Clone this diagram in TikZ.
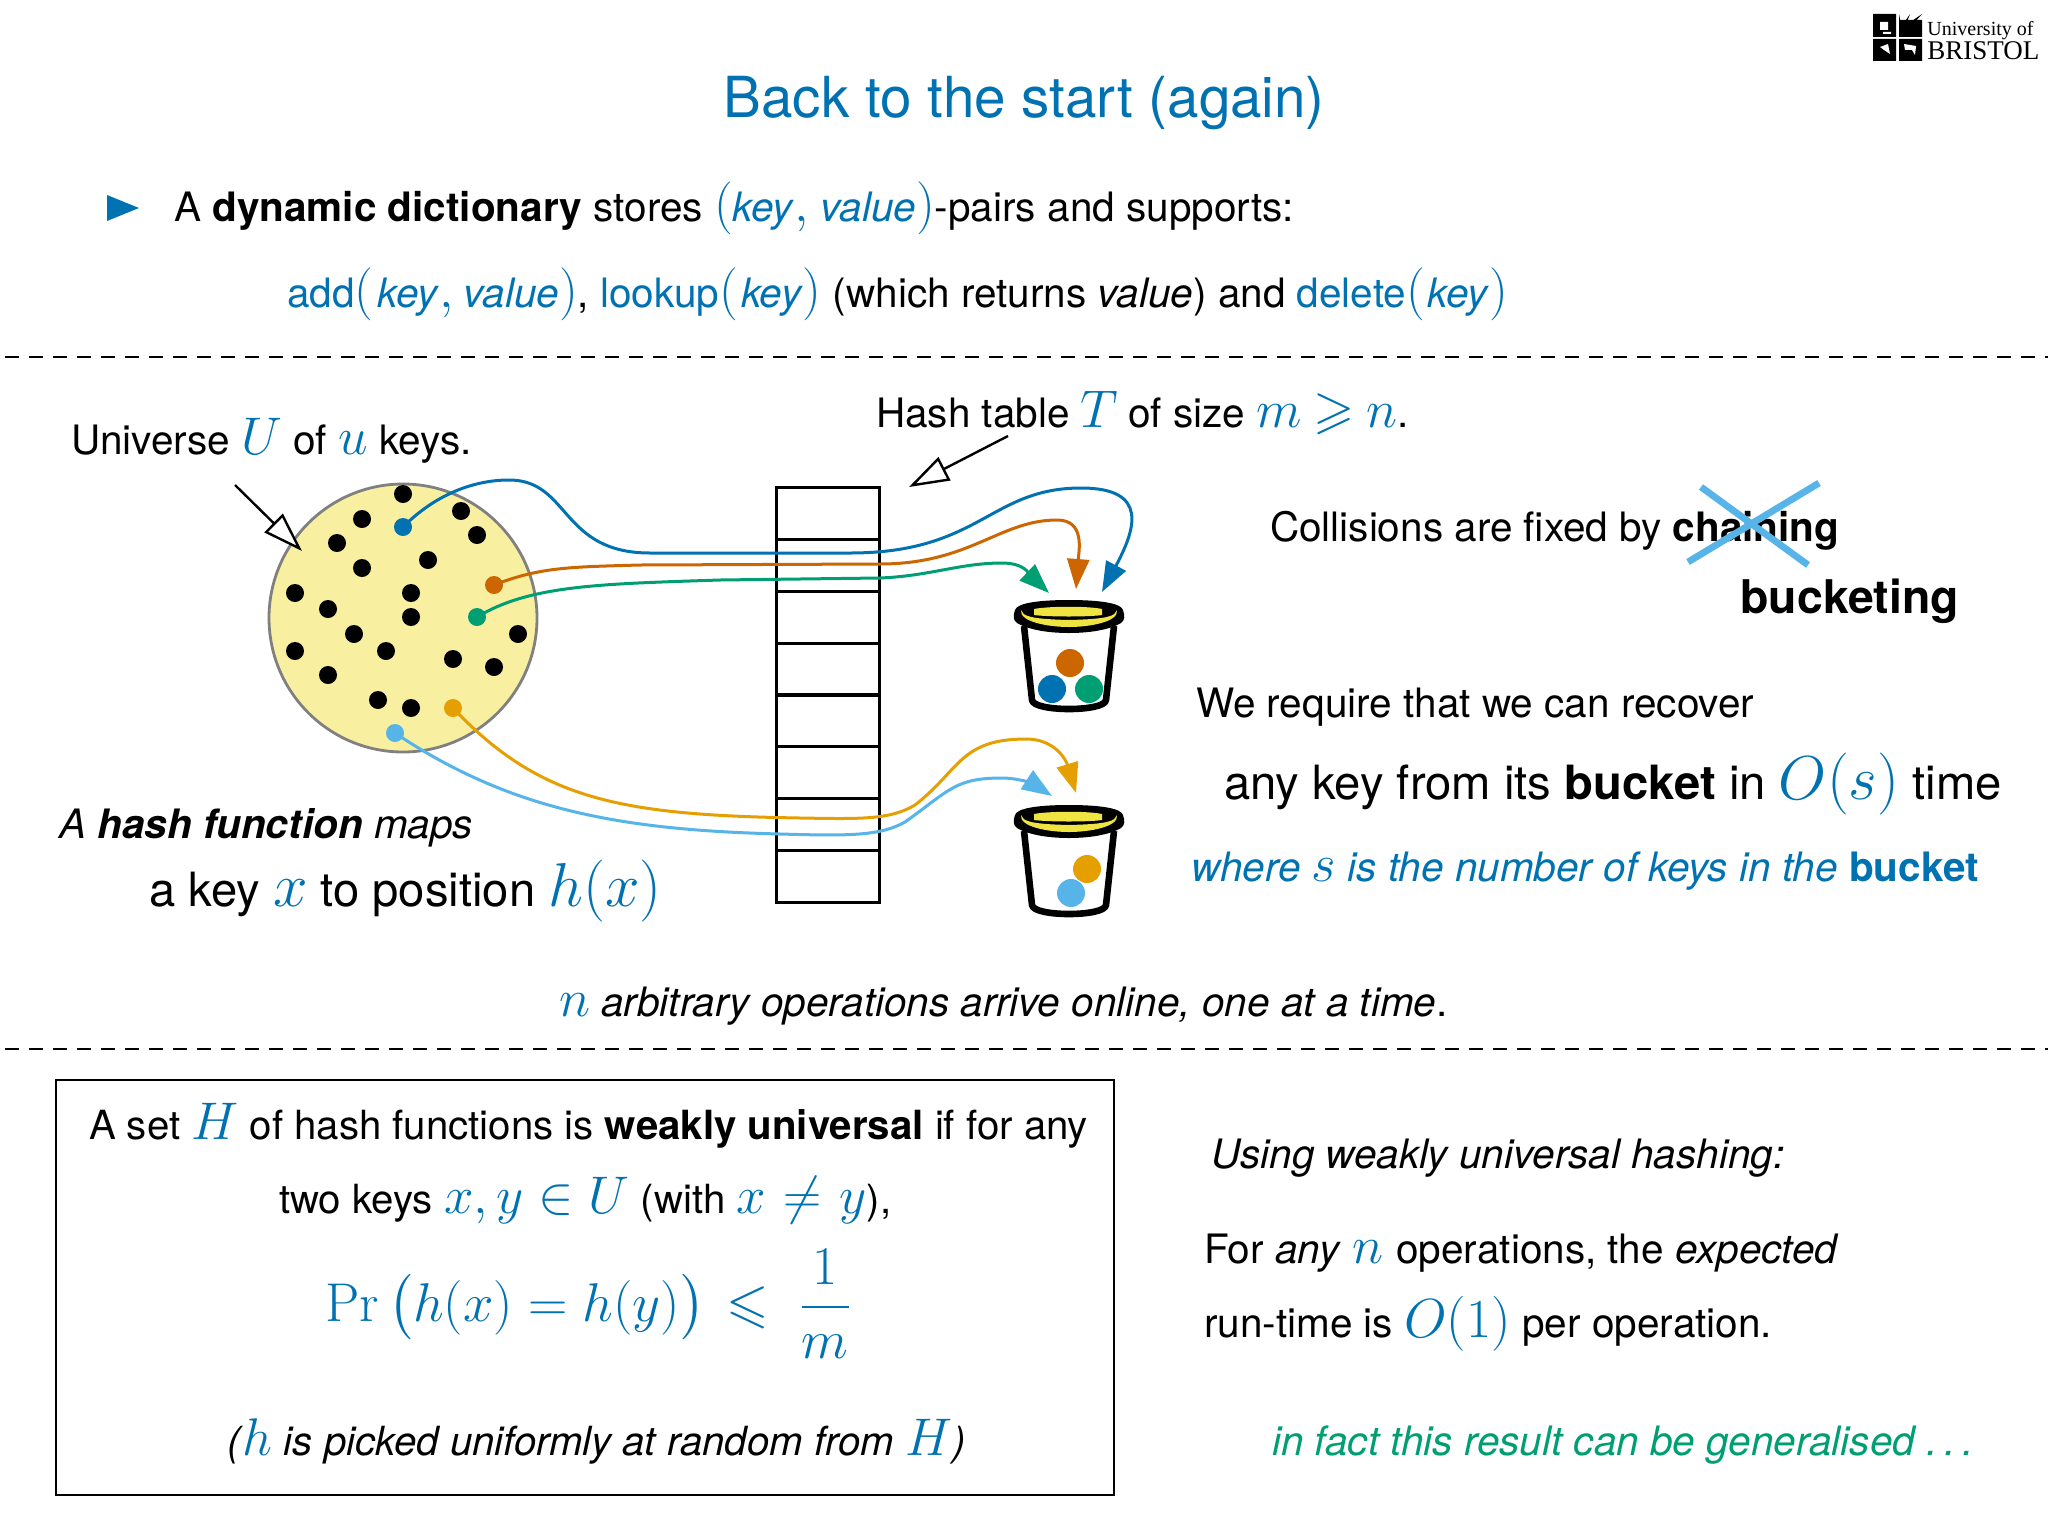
\RequirePackage{fix-cm}
\documentclass[tikz,border=0pt]{standalone}
\usepackage{amsmath,amssymb}
\usepackage[no-math]{fontspec}
\setmainfont{TeX Gyre Heros}
\newfontfamily\serifl{Liberation Serif}
\usetikzlibrary{arrows.meta}
\definecolor{mb}{HTML}{0072B2}
\definecolor{mv}{HTML}{CC6600}
\definecolor{mg}{HTML}{009E73}
\definecolor{mo}{HTML}{E69F00}
\definecolor{ms}{HTML}{56B4E9}
\definecolor{my}{HTML}{F0E442}
\definecolor{uni}{HTML}{F8F0A0}
\newcommand{\fs}[1]{\fontsize{#1}{#1}\selectfont}
\newcommand{\mm}[1]{{\fs{26.5}\color{mb}$#1$}}
\newcommand{\mn}[1]{{\fs{27.5}\color{mb}$#1$}}
\newcommand{\mh}[1]{{\fs{31}\color{mb}$#1$}}
\newcommand{\bi}[1]{{\color{mb}\textit{#1}}}
\tikzset{
 txt/.style={anchor=base west,inner sep=0pt,outer sep=0pt,font=\fs{20.25}},
 boxt/.style={anchor=base west,inner sep=0pt,outer sep=0pt,font=\fs{20.1}},
 big/.style={anchor=base west,inner sep=0pt,outer sep=0pt,font=\fs{23.6}},
 dot/.style={circle,fill=black,inner sep=0pt,minimum size=9pt},
 cell/.style={draw=black,line width=1.5pt,minimum width=51.5pt,minimum height=26pt,inner sep=0pt,outer sep=0pt},
 conn/.style={line width=1.5pt,-{Triangle[length=15pt,width=11pt]}},
 hollow/.style={line width=1.2pt,black,-{Triangle[open,fill=white,length=20pt,width=13pt,line width=1.2pt]}},
 ball/.style={circle,inner sep=0pt,minimum size=14pt},
 pics/bucket/.style={code={
  \draw[line width=3.3pt,line join=round,fill=white] (-45,26) -- (-37,100) .. controls (-36,112) and (36,112) .. (37,100) -- (45,26);
  \fill[black] (-54,10) .. controls (-52,3) and (-30,0) .. (0,0) .. controls (30,0) and (52,3) .. (54,10) .. controls (56,16) and (56,20) .. (52,23) .. controls (40,30) and (20,33) .. (0,33) .. controls (-20,33) and (-40,30) .. (-52,23) .. controls (-56,20) and (-56,16) .. (-54,10) -- cycle;
  \fill[my] (-48,10) .. controls (-46,16) and (-40,19) .. (0,20) .. controls (40,19) and (46,16) .. (48,10) .. controls (50,22) and (20,27) .. (0,27) .. controls (-20,27) and (-50,22) .. (-48,10) -- cycle;
  \fill[my] (-35,9) .. controls (-20,6) and (20,6) .. (33,9) -- (33,15) .. controls (20,17) and (-20,17) .. (-35,15) -- cycle;
 }}
}
\begin{document}
\begin{tikzpicture}[x=0.5pt,y=-0.5pt]
\useasboundingbox (0,0) rectangle (2048,1536);
\fill[white] (0,0) rectangle (2048,1536);
% logo
\fill[black] (1873,14) rectangle (1896,37) (1899,20) rectangle (1922,37) (1873,39) rectangle (1896,61) (1899,39) rectangle (1922,61);
\fill[white] (1880,22) rectangle (1888,30) (1883,32) rectangle (1891,34) (1880,47) -- (1888,44) -- (1890,54) -- (1884,50) -- cycle (1904,44) -- (1916,46) -- (1915,55) -- (1912,50) -- (1905,50) -- cycle;
\fill[black] (1899,30) -- (1922,14) -- (1906,32) -- cycle (1899,30) -- (1910,14) -- (1903,32) -- cycle (1899,30) -- (1899,14) -- (1902,30) -- cycle;
\node[anchor=base west,inner sep=0pt,font=\fs{10}\serifl] (lg1) at (1927,36) {University of};
\node[anchor=base west,inner sep=0pt,font=\fs{13.5}\serifl] (lg2) at (1927,60) {BRISTOL};
% title
\node[anchor=base,inner sep=0pt,font=\fs{28.3},text=mb] (title) at (1024,118) {Back to the start (again)};
\fill[mb] (107,195) -- (139,208) -- (107,221) -- cycle;
\node[txt] (t1) at (174,221) {A \textbf{dynamic dictionary} stores \mm{(}\bi{key}\mm{,} \bi{value}\mm{)}-pairs and supports:};
\node[txt] (t2) at (287,307) {{\color{mb}add}\mm{(}\kern2pt\bi{key}\mm{,}\kern-.6pt{} \bi{value}\mm{)}, {\color{mb}lookup}\mm{(}\kern1.5pt\bi{key}\mm{)} (which returns \textit{value}) and {\color{mb}delete}\mm{(}\kern1.5pt\bi{key}\mm{)}};
\draw[black,line width=1.1pt,dash pattern=on 7pt off 5pt] (5,357) -- (2048,357);
\draw[black,line width=1.1pt,dash pattern=on 7pt off 5pt] (5,1049) -- (2048,1049);
% universe
\node[txt] (tu) at (71,454) {Universe \mm{U} of \mm{u} keys.};
\node[txt] (th) at (876,427) {Hash table \mm{T}\kern-.8pt{} of size \mm{m\mkern-1mu\geqslant\mkern-1mu n}.};
\node[circle,draw=black!50,line width=1.4pt,fill=uni,minimum size=134pt,inner sep=0pt] (U) at (403,618) {};
\foreach \i/\p in {a/{403,494},b/{461,511},c/{362,519},d/{477,535},e/{337,543},f/{428,560},g/{362,568},h/{295,593},i/{411,593},j/{328,609},k/{411,617},l/{518,634},m/{354,634},n/{295,651},o/{386,651},p/{453,659},q/{494,667},r/{328,675},s/{378,700},t/{411,708}}
  \node[dot] (d\i) at (\p) {};
\node[dot,fill=mb] (kb) at (403,527) {};
\node[dot,fill=mv] (kv) at (494,585) {};
\node[dot,fill=mg] (kg) at (477,617) {};
\node[dot,fill=mo] (ko) at (453,708) {};
\node[dot,fill=ms] (ks) at (395,733) {};
% table
\foreach \n/\y in {1/513,2/565,3/617,4/669,5/720,6/772,7/824,8/876}
  \node[cell] (c\n) at (827.5,\y) {};
% buckets
\pic (bk1) at (1069,600) {bucket};
\pic (bk2) at (1069,805) {bucket};
\node[ball,fill=mv] (b1v) at (1070,663) {};
\node[ball,fill=mb] (b1b) at (1052,689) {};
\node[ball,fill=mg] (b1g) at (1089,689) {};
\node[ball,fill=mo] (b2o) at (1087,869) {};
\node[ball,fill=ms] (b2s) at (1071,893) {};
% tips
\coordinate (tb) at (1102,592);
\coordinate (tv) at (1076,589);
\coordinate (tg) at (1049,593);
\coordinate (to) at (1076,793);
\coordinate (ts) at (1052,796);
\draw[conn,mb] (kb.center) .. controls (440,490) and (480,480) .. (509,480) .. controls (570,480) and (560,553) .. (650,553) -- (850,553) .. controls (980,553) and (990,488) .. (1081,488) .. controls (1150,488) and (1135,530) .. (tb);
\draw[conn,mv] (kv.center) .. controls (540,567) and (570,567) .. (640,565) -- (880,564) .. controls (970,564) and (1000,520) .. (1057,520) .. controls (1085,520) and (1079,550) .. (tv);
\draw[conn,mg] (kg.center) .. controls (530,585) and (600,584) .. (720,580) -- (880,578) .. controls (930,576) and (960,563) .. (1002,563) .. controls (1025,563) and (1030,575) .. (tg);
\draw[conn,mo] (ko.center) .. controls (540,800) and (620,815) .. (800,818) .. controls (860,819) and (890,820) .. (915,805) .. controls (960,770) and (960,739) .. (1026,739) .. controls (1055,739) and (1066,760) .. (to);
\draw[conn,ms] (ks.center) .. controls (510,810) and (620,830) .. (780,834) .. controls (850,836) and (880,836) .. (905,822) .. controls (950,790) and (955,778) .. (1002,778) .. controls (1020,778) and (1035,785) .. (ts);
\coordinate (ua) at (235,485);
\coordinate (ub) at (302,551);
\draw[hollow] (ua) -- (ub);
\coordinate (ha) at (1008,436);
\coordinate (hb) at (909,487);
\draw[hollow] (ha) -- (hb);
% right
\node[txt] (col) at (1270,541) {Collisions are fixed by \textbf{chaining}};
\coordinate (x1) at (1688,562); \coordinate (x2) at (1819,483); \coordinate (x3) at (1701,487); \coordinate (x4) at (1808,565);
\draw[ms,line width=3.4pt] (x1) -- (x2) (x3) -- (x4);
\node[anchor=base west,inner sep=0pt,font=\fs{23.2}\bfseries] (bk) at (1740,613) {bucketing};
\node[txt] (wr) at (1196,717) {We require that we can recover};
\node[big] (an) at (1224,799) {any key from its \textbf{bucket} in \mh{O(s)} time};
\node[txt,text=mb] (wh) at (1191,881) {\textit{where} \mm{s} \textit{is the number of keys in the} \textbf{bucket}};
\node[txt] (hf) at (59,838) {\textit{A} \textbf{\textit{hash function}} \textit{maps}};
\node[big] (ak) at (149,906) {a key \mh{x} to position \mh{h(x)}};
\node[txt] (ops) at (559,1016) {\mm{n} \textit{arbitrary operations arrive online, one at a time}.};
% box
\node[draw=black,line width=1.4pt,minimum width=529pt,minimum height=207.5pt,inner sep=0pt] (box) at (585,1287.5) {};
\node[boxt] (s1) at (89,1139) {A set \mm{H} of hash functions is \textbf{weakly universal} if for any};
\node[boxt] (s2) at (279,1213) {two keys \mm{x,y\in U} (with \mm{x\mkern1mu\neq\mkern1mu y}),};
\node[anchor=base west,inner sep=0pt,font=\fs{27.3},text=mb] (fm) at (325,1321) {$\displaystyle \Pr\,\bigl(h(x)=h(y)\bigr)\kern3.2pt\leqslant\ \frac{1}{\rule{0pt}{21pt}m}$};
\node[boxt] (s3) at (227,1455) {\textit{(}\mm{h} \textit{is picked uniformly at random from} \mm{H}\textit{)}};
\node[txt] (r1) at (1211,1168) {\textit{Using weakly universal hashing:}};
\node[txt] (r2) at (1204,1263) {For \textit{any} \mm{n}\kern1pt{} operations, the \textit{expected}};
\node[txt] (r3) at (1204,1337) {run-time is \mn{O(1)} per operation.};
\node[txt,text=mg] (r4) at (1272,1455) {\textit{in fact this result can be generalised\ .\,.\,.}};
\end{tikzpicture}
\end{document}
